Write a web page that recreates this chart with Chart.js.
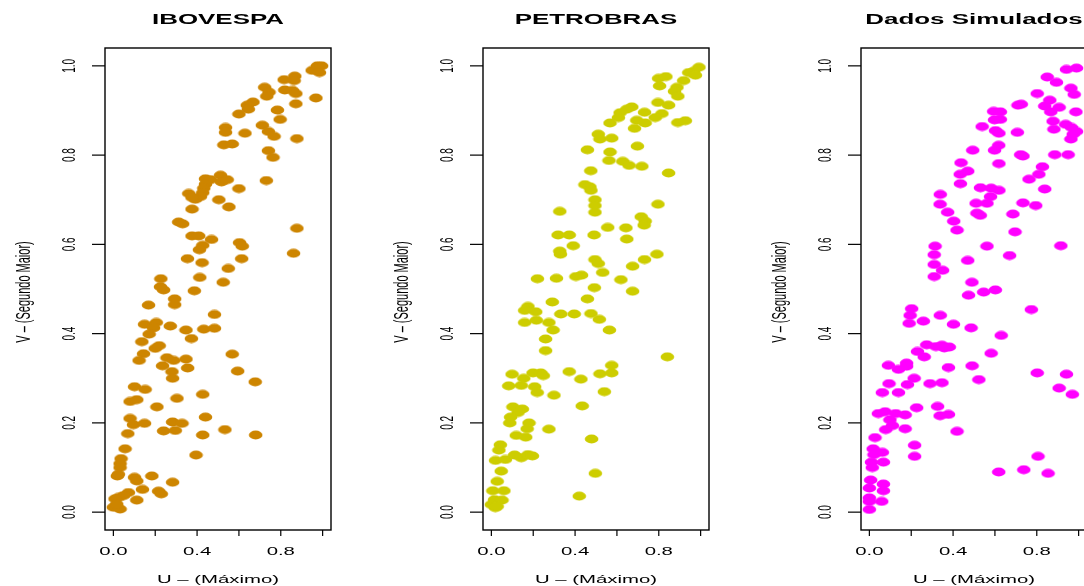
<!DOCTYPE html>
<html lang="pt">
<head>
  <meta charset="UTF-8" />
  <title>Copulas - U x V</title>
  <script src="https://cdn.jsdelivr.net/npm/chart.js"></script>
  <style>
    html, body {
      margin: 0;
      padding: 0;
      background: #ffffff;
      overflow: hidden;
    }
    .wrap {
      position: relative;
      width: 1084px;
      height: 586px;
      overflow: hidden;
    }
    .wrap canvas {
      position: absolute;
      top: 0;
    }
  </style>
</head>
<body>
  <div class="wrap">
    <canvas id="c1" width="378" height="586" style="left:0px"></canvas>
    <canvas id="c2" width="378" height="586" style="left:378px"></canvas>
    <canvas id="c3" width="378" height="586" style="left:756px"></canvas>
  </div>

  <script>
    // panel titles and axis text
    const titles = ['IBOVESPA', 'PETROBRAS', 'Dados Simulados'];
    const xTitle = 'U \u2013 (M\u00e1ximo)';
    const yTitle = 'V \u2013 (Segundo Maior)';
    const xTicks = [0, 0.2, 0.4, 0.6, 0.8, 1.0];
    const xTickLabels = ['0.0', '', '0.4', '', '0.8', ''];
    const yTicks = [0, 0.2, 0.4, 0.6, 0.8, 1.0];
    const yTickLabels = ['0.0', '0.2', '0.4', '0.6', '0.8', '1.0'];
    const colors = ['#CD8500', '#CDCD00', '#FF00FF'];

    // [U, V] pairs
    const iboData = [
      [0.95,0.99],[0.975,1.0],[0.995,1.0],[0.985,0.985],
      [0.867,0.977],[0.864,0.967],[0.816,0.969],[0.723,0.952],[0.744,0.941],[0.733,0.932],
      [0.819,0.946],[0.856,0.945],[0.872,0.938],[0.968,0.928],[0.872,0.915],[0.667,0.919],
      [0.64,0.912],[0.645,0.903],[0.6,0.892],[0.784,0.901],[0.797,0.88],[0.712,0.867],
      [0.536,0.862],[0.536,0.851],[0.629,0.849],[0.741,0.853],[0.768,0.842],[0.877,0.837],
      [0.528,0.823],[0.568,0.825],[0.741,0.81],[0.763,0.795],[0.731,0.743],[0.44,0.747],
      [0.464,0.745],[0.512,0.755],[0.517,0.74],[0.544,0.745],[0.44,0.735],[0.432,0.726],
      [0.6,0.725],[0.427,0.716],[0.36,0.714],[0.416,0.707],[0.392,0.701],[0.376,0.705],
      [0.504,0.7],[0.552,0.684],[0.376,0.679],[0.312,0.65],[0.331,0.646],[0.376,0.619],
      [0.408,0.619],[0.469,0.611],[0.427,0.598],[0.411,0.588],[0.603,0.604],[0.616,0.596],
      [0.877,0.636],[0.861,0.58],[0.354,0.568],[0.424,0.559],[0.613,0.568],[0.549,0.546],
      [0.413,0.526],[0.227,0.523],[0.525,0.515],
      [0.24,0.498],[0.225,0.505],[0.387,0.496],[0.293,0.478],[0.293,0.465],[0.168,0.464],
      [0.483,0.443],[0.149,0.421],[0.205,0.425],[0.192,0.413],[0.272,0.417],[0.347,0.408],
      [0.432,0.41],[0.483,0.412],[0.171,0.399],[0.373,0.389],[0.136,0.382],[0.2,0.367],
      [0.219,0.373],[0.144,0.355],[0.123,0.34],[0.568,0.354],[0.256,0.346],[0.288,0.34],
      [0.347,0.343],[0.235,0.328],[0.355,0.323],[0.28,0.315],[0.283,0.3],[0.594,0.316],
      [0.678,0.292],[0.101,0.281],[0.152,0.275],[0.427,0.264],[0.08,0.248],[0.112,0.252],
      [0.304,0.255],[0.208,0.236],[0.08,0.21],[0.44,0.213],[0.096,0.196],[0.149,0.199],
      [0.283,0.202],[0.328,0.199],[0.24,0.182],[0.296,0.183],[0.069,0.176],[0.427,0.173],
      [0.533,0.185],[0.68,0.173],[0.056,0.142],[0.395,0.128],[0.037,0.12],[0.032,0.109],
      [0.032,0.1],[0.019,0.081],[0.024,0.085],[0.101,0.078],[0.112,0.07],[0.184,0.081],
      [0.283,0.067],[0.139,0.051],[0.216,0.047],[0.229,0.041],[0.072,0.044],[0.048,0.037],
      [0.024,0.033],[0.112,0.027],[0.008,0.03],[0.0,0.011],[0.032,0.007],[0.016,0.018]
    ];

    const petroData = [
      [0.992,0.997],[0.967,0.988],[0.943,0.985],[0.975,0.979],[0.919,0.967],[0.799,0.972],
      [0.834,0.976],[0.804,0.955],[0.887,0.952],[0.875,0.943],[0.891,0.932],[0.796,0.918],
      [0.847,0.912],[0.671,0.908],[0.647,0.903],[0.615,0.895],[0.607,0.884],[0.732,0.896],
      [0.815,0.893],[0.783,0.884],[0.567,0.872],[0.695,0.878],[0.735,0.872],[0.891,0.873],
      [0.927,0.877],[0.684,0.86],[0.511,0.847],[0.519,0.836],[0.575,0.838],[0.698,0.82],
      [0.459,0.812],[0.567,0.807],[0.562,0.788],[0.628,0.786],[0.658,0.777],[0.719,0.775],
      [0.847,0.76],[0.475,0.765],[0.447,0.734],[0.471,0.729],[0.476,0.721],[0.495,0.7],
      [0.495,0.687],[0.495,0.672],[0.796,0.69],[0.327,0.674],[0.716,0.662],[0.735,0.652],
      [0.73,0.643],[0.556,0.638],[0.643,0.637],[0.319,0.621],[0.372,0.621],[0.491,0.621],
      [0.647,0.612],[0.391,0.597],[0.327,0.585],[0.33,0.578],[0.791,0.578],[0.732,0.566],
      [0.495,0.566],[0.511,0.557],[0.675,0.551],[0.532,0.537],[0.431,0.531],[0.404,0.528],
      [0.22,0.523],[0.311,0.524],[0.619,0.521],[0.492,0.503],
      [0.675,0.495],[0.291,0.471],[0.459,0.478],[0.175,0.461],[0.159,0.452],[0.212,0.449],
      [0.332,0.444],[0.396,0.444],[0.476,0.445],[0.516,0.432],[0.159,0.425],[0.215,0.43],
      [0.275,0.425],[0.295,0.408],[0.564,0.408],[0.259,0.388],[0.259,0.362],[0.841,0.348],
      [0.575,0.329],[0.099,0.309],[0.155,0.3],[0.199,0.312],[0.236,0.312],[0.248,0.306],
      [0.372,0.315],[0.428,0.298],[0.519,0.31],[0.575,0.312],[0.083,0.283],[0.143,0.284],
      [0.207,0.281],[0.219,0.268],[0.299,0.262],[0.54,0.27],[0.103,0.236],[0.148,0.231],
      [0.127,0.223],[0.092,0.213],[0.088,0.2],[0.434,0.238],[0.18,0.2],[0.171,0.187],
      [0.275,0.186],[0.119,0.172],[0.164,0.168],[0.479,0.164],[0.043,0.151],[0.036,0.139],
      [0.02,0.116],[0.067,0.118],[0.111,0.128],[0.143,0.122],[0.175,0.129],[0.196,0.126],
      [0.047,0.092],[0.497,0.087],[0.028,0.069],[0.007,0.048],[0.06,0.048],[0.42,0.036],
      [0.015,0.028],[0.051,0.027],[0.0,0.017],[0.019,0.01],[0.028,0.013]
    ];

    const simData = [
      [0.942,0.992],[0.99,0.995],[0.85,0.975],[0.894,0.963],[0.963,0.95],[0.979,0.936],
      [0.802,0.938],[0.862,0.923],[0.71,0.912],[0.726,0.914],[0.838,0.91],[0.867,0.897],
      [0.907,0.907],[0.987,0.897],[0.594,0.898],[0.626,0.897],[0.598,0.879],[0.626,0.88],
      [0.878,0.876],[0.938,0.869],[0.966,0.862],[0.882,0.858],[0.99,0.853],[0.974,0.847],
      [0.963,0.836],[0.539,0.864],[0.603,0.855],[0.619,0.849],[0.707,0.851],[0.618,0.822],
      [0.598,0.811],[0.494,0.811],[0.723,0.801],[0.734,0.798],[0.886,0.801],[0.95,0.801],
      [0.438,0.783],[0.619,0.781],[0.827,0.774],[0.47,0.764],[0.434,0.757],[0.81,0.757],
      [0.763,0.746],[0.435,0.736],[0.838,0.724],[0.531,0.727],[0.582,0.726],[0.619,0.721],
      [0.579,0.707],[0.339,0.712],[0.338,0.69],[0.51,0.692],[0.562,0.692],[0.734,0.693],
      [0.795,0.687],[0.374,0.672],[0.514,0.67],[0.53,0.665],[0.686,0.668],[0.403,0.652],
      [0.419,0.632],[0.696,0.628],[0.314,0.596],[0.562,0.596],[0.915,0.597],[0.31,0.577],
      [0.67,0.575],[0.47,0.564],[0.31,0.555],[0.35,0.542],[0.31,0.528],[0.49,0.515],
      [0.474,0.486],[0.546,0.493],[0.602,0.498],[0.774,0.454],[0.202,0.456],[0.195,0.441],
      [0.19,0.423],[0.258,0.428],[0.339,0.441],[0.402,0.421],[0.486,0.413],[0.63,0.396],
      [0.274,0.375],[0.23,0.36],[0.262,0.348],[0.318,0.371],[0.358,0.368],[0.382,0.37],
      [0.347,0.374],[0.582,0.356],[0.091,0.329],[0.139,0.32],[0.178,0.334],[0.178,0.327],
      [0.378,0.324],[0.491,0.328],[0.214,0.3],[0.523,0.297],[0.802,0.312],[0.942,0.309],
      [0.907,0.278],[0.97,0.264],[0.094,0.288],[0.182,0.286],[0.29,0.288],[0.347,0.29],
      [0.062,0.268],[0.139,0.268],[0.226,0.234],[0.326,0.237],[0.043,0.221],[0.075,0.225],
      [0.126,0.221],[0.171,0.218],[0.338,0.216],[0.378,0.219],[0.098,0.207],[0.11,0.194],
      [0.078,0.185],[0.171,0.187],[0.419,0.181],[0.027,0.167],[0.216,0.15],[0.216,0.125],
      [0.018,0.142],[0.022,0.129],[0.062,0.134],[0.01,0.112],[0.067,0.112],[0.014,0.1],
      [0.806,0.125],[0.618,0.09],[0.738,0.095],[0.854,0.087],[0.006,0.072],[0.0,0.054],
      [0.067,0.063],[0.067,0.048],[0.0,0.032],[0.0,0.024],[0.059,0.024],[0.0,0.006]
    ];

    const panels = [iboData, petroData, simData];

    // the picture looks stretched sideways, so text and dots are widened
    const SX = 1.85;
    const FONT = '"Liberation Sans", Arial, Helvetica, sans-serif';

    function ellipseDot(color) {
      const c = document.createElement('canvas');
      c.width = 15;
      c.height = 10;
      const g = c.getContext('2d');
      g.fillStyle = color;
      g.beginPath();
      g.ellipse(7.5, 5, 6.8, 4.4, 0, 0, Math.PI * 2);
      g.fill();
      return c;
    }

    function wideText(ctx, text, x, y, font, rotate) {
      ctx.save();
      ctx.translate(x, y);
      ctx.scale(SX, 1);
      if (rotate) ctx.rotate(-Math.PI / 2);
      ctx.font = font;
      ctx.textAlign = 'center';
      ctx.textBaseline = 'middle';
      ctx.fillText(text, 0, 0);
      ctx.restore();
    }

    // box, ticks and R-style labels
    const frame = {
      id: 'frame',
      afterDraw(chart) {
        const ctx = chart.ctx;
        const ca = chart.chartArea;
        const xs = chart.scales.x;
        const ys = chart.scales.y;
        ctx.save();
        ctx.strokeStyle = '#000';
        ctx.fillStyle = '#000';
        ctx.lineWidth = 1.4;
        ctx.strokeRect(ca.left, ca.top, ca.right - ca.left, ca.bottom - ca.top);

        ctx.lineWidth = 1.2;
        xTicks.forEach((v, i) => {
          const px = xs.getPixelForValue(v);
          ctx.beginPath();
          ctx.moveTo(px, ca.bottom);
          ctx.lineTo(px, ca.bottom + 6);
          ctx.stroke();
          if (xTickLabels[i]) wideText(ctx, xTickLabels[i], px, 551.5, '11px ' + FONT, false);
        });
        yTicks.forEach((v, i) => {
          const py = ys.getPixelForValue(v);
          ctx.beginPath();
          ctx.moveTo(ca.left - 13, py);
          ctx.lineTo(ca.left, py);
          ctx.stroke();
          wideText(ctx, yTickLabels[i], 70, py, '10px ' + FONT, true);
        });

        const cx = (ca.left + ca.right) / 2;
        wideText(ctx, chart.options.panelTitle, cx, 20.5, 'bold 14px ' + FONT, false);
        wideText(ctx, xTitle, cx, 579.5, '11px ' + FONT, false);
        wideText(ctx, yTitle, 24, 292, '11px ' + FONT, true);
        ctx.restore();
      }
    };

    panels.forEach((pts, k) => {
      const ctx = document.getElementById('c' + (k + 1)).getContext('2d');
      new Chart(ctx, {
        type: 'scatter',
        data: {
          datasets: [{
            data: pts.map(p => ({ x: p[0], y: p[1] })),
            pointStyle: ellipseDot(colors[k]),
            pointRadius: 6,
            backgroundColor: colors[k],
            borderColor: colors[k]
          }]
        },
        options: {
          panelTitle: titles[k],
          responsive: false,
          animation: false,
          layout: { padding: { left: 105, right: 47, top: 48, bottom: 56 } },
          scales: {
            x: { type: 'linear', min: -0.04, max: 1.04, display: false },
            y: { type: 'linear', min: -0.04, max: 1.04, display: false }
          },
          plugins: {
            legend: { display: false },
            tooltip: { enabled: false },
            title: { display: false }
          }
        },
        plugins: [frame]
      });
    });
  </script>
</body>
</html>
